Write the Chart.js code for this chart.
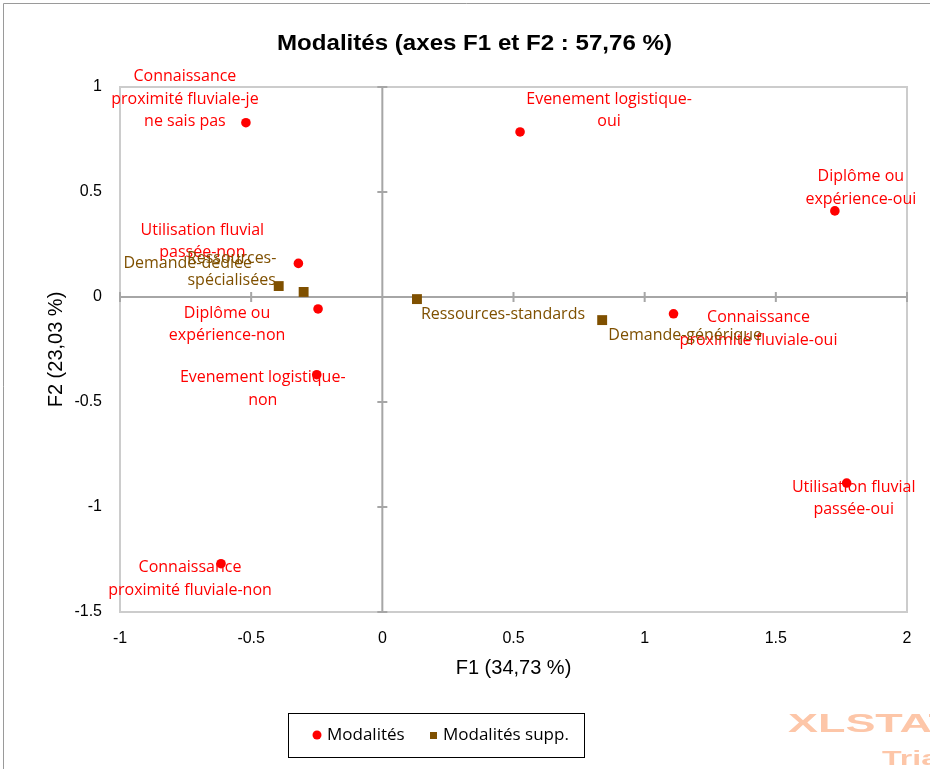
<!DOCTYPE html>
<html>
<head>
<meta charset="utf-8">
<script src="https://cdn.jsdelivr.net/npm/chart.js@4.4.1/dist/chart.umd.min.js"></script>
<style>
html, body { margin: 0; padding: 0; background: #fff; }
#wrap { width: 930px; height: 769px; position: relative; }
</style>
</head>
<body>
<div id="wrap"><canvas id="acp" width="930" height="769"></canvas></div>
<script>
// coordonnees des modalites (F1, F2)
var modNames = [
    "Connaissance\nproximité fluviale-je\nne sais pas",
    "Evenement logistique-\noui",
    "Diplôme ou\nexpérience-oui",
    "Utilisation fluvial\npassée-non",
    "Diplôme ou\nexpérience-non",
    "Connaissance\nproximité fluviale-oui",
    "Evenement logistique-\nnon",
    "Utilisation fluvial\npassée-oui",
    "Connaissance\nproximité fluviale-non"
];
var modF1 = [-0.52, 0.525, 1.725, -0.32, -0.245, 1.11, -0.25, 1.77, -0.615];
var modF2 = [0.83, 0.786, 0.41, 0.16, -0.057, -0.08, -0.37, -0.886, -1.27];

// modalites supplementaires
var suppNames = ["Demande-dédiée", "Ressources-\nspécialisées", "Ressources-standards", "Demande-générique"];
var suppF1 = [-0.395, -0.30, 0.132, 0.838];
var suppF2 = [0.052, 0.024, -0.01, -0.11];

var xTicks = [-1, -0.5, 0, 0.5, 1, 1.5, 2];
var yTicks = [-1.5, -1, -0.5, 0, 0.5, 1];

// decalage des etiquettes (px) : centre du texte, premiere ligne
var modLabelPos = [[-61, -46], [89, -33], [26, -34], [-96, -33], [-91, 4], [85, 4], [-54, 3], [7, 4], [-31, 4]];
var suppLabelPos = [[-91, -23], [-72, -34], [86, 15], [83, 15]];

var RED = "#ff0000", BROWN = "#7f5000";
var FONT = "'Open Sans', 'Noto Sans', sans-serif";
var ARIAL = "'Liberation Sans', Arial, sans-serif";

function pts(xs, ys) {
    var out = [];
    for (var i = 0; i < xs.length; i++) out.push({x: xs[i], y: ys[i]});
    return out;
}

// texte etire horizontalement pour tenir dans une largeur donnee
function fitText(ctx, txt, x, y, w) {
    var m = ctx.measureText(txt).width;
    ctx.save();
    ctx.translate(x, y);
    ctx.scale(w / m, 1);
    ctx.fillText(txt, 0, 0);
    ctx.restore();
}

var decor = {
    id: 'decor',
    beforeDraw: function (chart) {
        var ctx = chart.ctx, a = chart.chartArea;
        var sx = chart.scales.x, sy = chart.scales.y;
        ctx.save();
        ctx.strokeStyle = '#9a9a9a';
        ctx.lineWidth = 1;
        ctx.beginPath();
        ctx.moveTo(3.5, 769); ctx.lineTo(3.5, 3.5); ctx.lineTo(930, 3.5);
        ctx.stroke();

        ctx.strokeStyle = '#cccccc';
        ctx.lineWidth = 2;
        ctx.strokeRect(a.left, a.top, a.right - a.left, a.bottom - a.top);

        var x0 = sx.getPixelForValue(0), y0 = sy.getPixelForValue(0);
        ctx.strokeStyle = '#a6a6a6';
        ctx.lineWidth = 2;
        ctx.beginPath();
        ctx.moveTo(x0, a.top); ctx.lineTo(x0, a.bottom);
        ctx.moveTo(a.left, y0); ctx.lineTo(a.right, y0);
        yTicks.forEach(function (v) {
            var p = sy.getPixelForValue(v);
            ctx.moveTo(x0 - 5, p); ctx.lineTo(x0 + 5, p);
        });
        xTicks.forEach(function (v) {
            var p = sx.getPixelForValue(v);
            ctx.moveTo(p, y0 - 5); ctx.lineTo(p, y0 + 5);
        });
        ctx.stroke();
        ctx.restore();
    },
    beforeDatasetsDraw: function (chart) {
        var ctx = chart.ctx;
        ctx.save();
        ctx.font = "16px " + FONT;
        ctx.textAlign = 'center';
        ctx.textBaseline = 'middle';
        var sets = [[modNames, modLabelPos, RED], [suppNames, suppLabelPos, BROWN]];
        sets.forEach(function (s, di) {
            var meta = chart.getDatasetMeta(di);
            ctx.fillStyle = s[2];
            meta.data.forEach(function (el, i) {
                var lines = s[0][i].split("\n");
                lines.forEach(function (ln, k) {
                    ctx.fillText(ln, el.x + s[1][i][0], el.y + s[1][i][1] + k * 22.5);
                });
            });
        });
        ctx.restore();
    },
    afterDraw: function (chart) {
        var ctx = chart.ctx, a = chart.chartArea;
        ctx.save();
        ctx.fillStyle = '#000';
        ctx.textAlign = 'left';
        ctx.textBaseline = 'alphabetic';
        ctx.font = "bold 22px " + ARIAL;
        fitText(ctx, "Modalités (axes F1 et F2 : 57,76 %)", 277, 50, 395);

        ctx.textAlign = 'center';
        ctx.textBaseline = 'middle';
        ctx.font = "20px " + ARIAL;
        ctx.fillText("F1 (34,73 %)", (a.left + a.right) / 2, 668);
        ctx.save();
        ctx.translate(56, (a.top + a.bottom) / 2);
        ctx.rotate(-Math.PI / 2);
        ctx.fillText("F2 (23,03 %)", 0, 0);
        ctx.restore();

        // legende
        ctx.strokeStyle = '#000';
        ctx.lineWidth = 1;
        ctx.strokeRect(288.5, 713.5, 296, 44);
        ctx.fillStyle = RED;
        ctx.beginPath(); ctx.arc(317, 735, 4.5, 0, Math.PI * 2); ctx.fill();
        ctx.fillStyle = BROWN;
        ctx.fillRect(430, 732, 7, 7);
        ctx.fillStyle = '#000';
        ctx.textAlign = 'left';
        ctx.font = "17px " + FONT;
        ctx.fillText(chart.data.datasets[0].label, 327, 735);
        ctx.fillText(chart.data.datasets[1].label, 443, 735);

        // filigrane
        ctx.fillStyle = 'rgb(253, 198, 168)';
        ctx.textBaseline = 'alphabetic';
        ctx.font = "bold 25px " + ARIAL;
        fitText(ctx, "XLSTAT", 788, 732, 168);
        ctx.font = "bold 21px " + ARIAL;
        fitText(ctx, "Trial", 882, 765, 66);
        ctx.restore();
    }
};

new Chart(document.getElementById('acp'), {
    type: 'scatter',
    data: {
        datasets: [
            {
                label: 'Modalités',
                data: pts(modF1, modF2),
                backgroundColor: RED,
                borderColor: RED,
                pointStyle: 'circle',
                pointRadius: 4.8,
                borderWidth: 0
            },
            {
                label: 'Modalités supp.',
                data: pts(suppF1, suppF2),
                backgroundColor: BROWN,
                borderColor: BROWN,
                pointStyle: 'rect',
                pointRadius: 7,
                borderWidth: 0
            }
        ]
    },
    options: {
        responsive: false,
        animation: false,
        layout: { padding: { left: 0, top: 87, right: 23, bottom: 0 } },
        plugins: {
            legend: { display: false },
            tooltip: { enabled: false }
        },
        scales: {
            x: {
                type: 'linear',
                min: -1, max: 2,
                afterBuildTicks: function (s) { s.ticks = xTicks.map(function (v) { return {value: v}; }); },
                afterFit: function (s) { s.height = 157; },
                grid: { display: false, drawTicks: false },
                border: { display: false },
                ticks: {
                    padding: 17,
                    color: '#000',
                    font: { family: ARIAL, size: 16 },
                    callback: function (v) { return String(v); }
                }
            },
            y: {
                type: 'linear',
                min: -1.5, max: 1,
                afterBuildTicks: function (s) { s.ticks = yTicks.map(function (v) { return {value: v}; }); },
                afterFit: function (s) { s.width = 120; },
                grid: { display: false, drawTicks: false },
                border: { display: false },
                ticks: {
                    padding: 18,
                    color: '#000',
                    font: { family: ARIAL, size: 16 },
                    callback: function (v) { return String(v); }
                }
            }
        }
    },
    plugins: [decor]
});
</script>
</body>
</html>
